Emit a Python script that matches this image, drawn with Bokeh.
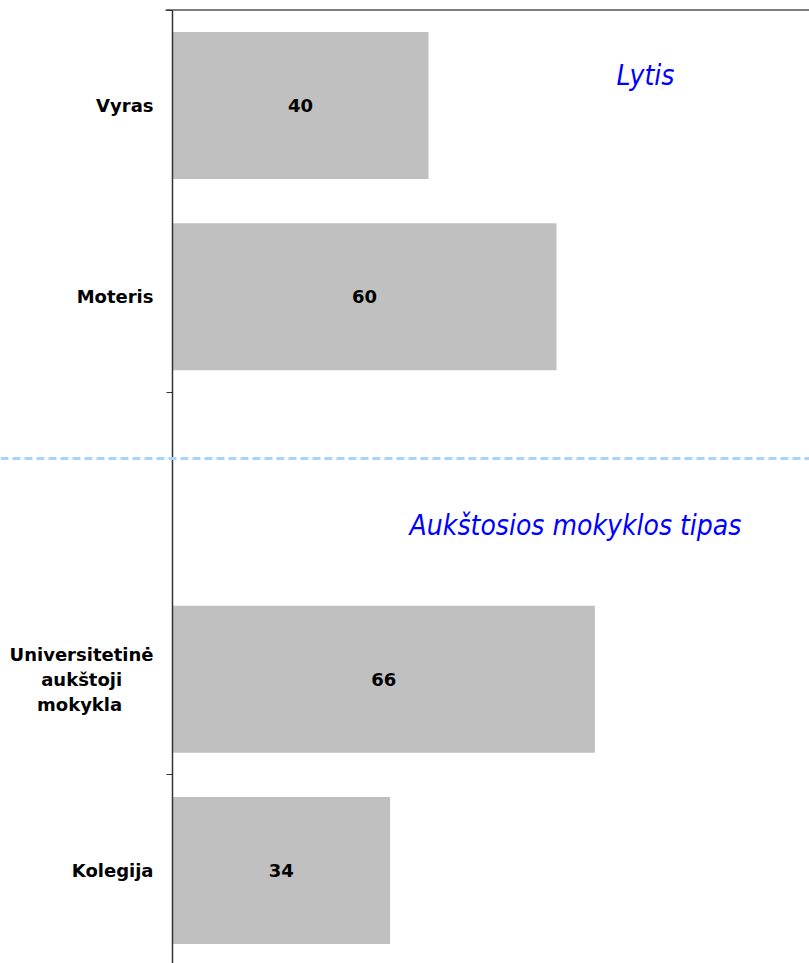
from bokeh.plotting import figure
from bokeh.models import Range1d, LinearAxis, FixedTicker, Span, ColumnDataSource, Label
from bokeh.core.properties import value
from bokeh.embed import file_html
from bokeh.resources import INLINE

# ---- data (top to bottom; None marks the empty gap row between groups) ----
rows = ["Vyras", "Moteris", None,
        "Universitetinė\naukštoji\u00a0\u00a0\u00a0\u00a0\u00a0\nmokykla\u00a0\u00a0\u00a0\u00a0\u00a0",
        "Kolegija"]
values = [40, 60, None, 66, 34]
group_titles = ["Lytis", "Aukštosios mokyklos tipas"]

n = len(rows)
centers = [n - i - 0.5 for i in range(n)]
bar_y = [c for c, v in zip(centers, values) if v is not None]
bar_v = [v for v in values if v is not None]
bar_lbl = [str(v) for v in bar_v]
src = ColumnDataSource(dict(y=bar_y, v=bar_v, mid=[v / 2 for v in bar_v], lbl=bar_lbl))

p = figure(width=809, height=963,
           x_range=Range1d(-26.875, 99.53), y_range=Range1d(0.0131, 5.0497),
           output_backend="svg", toolbar_location=None,
           x_axis_type=None, y_axis_type=None, min_border=0)
p.outline_line_color = None
p.background_fill_color = "white"

p.hbar(y="y", left=0, right="v", height=0.769, source=src,
       fill_color="#C0C0C0", line_color=None)
p.text(x="mid", y="y", text="lbl", source=src, text_align="center", text_baseline="middle",
       text_font=value("DejaVu Sans"), text_font_style="bold", text_font_size="18px",
       text_color="black")

# top border line
p.segment(x0=[-1.1], y0=[n], x1=[99.53], y1=[n], line_color="#7f7f7f", line_width=2)

yaxis = LinearAxis(ticker=FixedTicker(ticks=[c for c, r in zip(centers, rows) if r is not None],
                                      minor_ticks=[1, 3, 5]),
                   fixed_location=0, bounds=(0.0131, n))
yaxis.major_label_overrides = {c: r for c, r in zip(centers, rows) if r is not None}
yaxis.major_tick_out = 0
yaxis.major_tick_in = 0
yaxis.minor_tick_out = 6
yaxis.minor_tick_in = 0
yaxis.minor_tick_line_color = "#333333"
yaxis.axis_line_color = "#333333"
yaxis.axis_line_width = 1.5
yaxis.major_label_standoff = 13
yaxis.major_label_text_font = "DejaVu Sans"
yaxis.major_label_text_font_style = "bold"
yaxis.major_label_text_font_size = "18px"
yaxis.major_label_text_color = "black"
yaxis.major_label_text_line_height = 1.19
p.add_layout(yaxis, "left")

p.add_layout(Span(location=2.654, dimension="width", line_color="#A8D4FA",
                  line_width=3, line_dash="8 4"))

title_font = "DejaVu Sans Condensed, Liberation Sans"
p.add_layout(Label(x=73.9, y=4.657, text=group_titles[0], text_align="center", text_baseline="middle",
                   text_font=title_font, text_font_style="italic",
                   text_font_size="28px", text_color="#0000FF"))
p.add_layout(Label(x=62.97, y=2.304, text=group_titles[1], text_align="center", text_baseline="middle",
                   text_font=title_font, text_font_style="italic",
                   text_font_size="28px", text_color="#0000FF"))

open("out.html", "w").write(file_html(p, INLINE))
